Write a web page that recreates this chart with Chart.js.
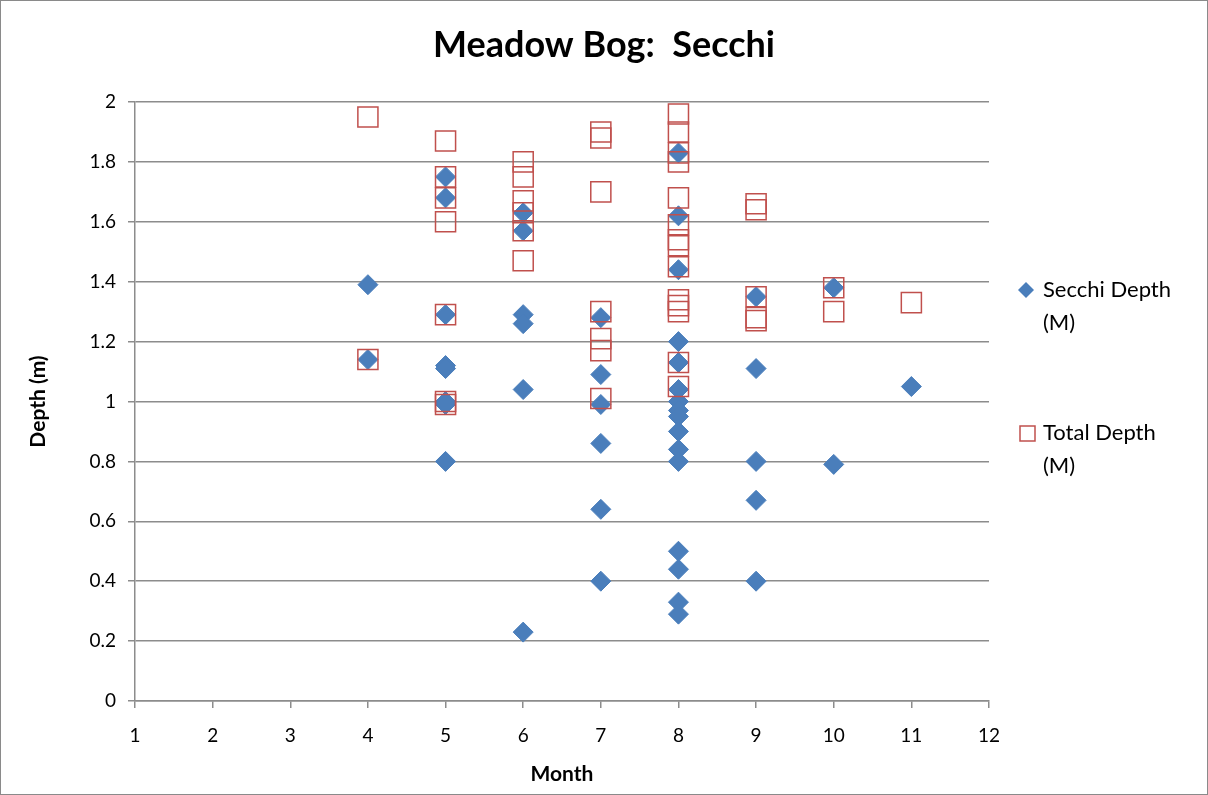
<!DOCTYPE html>
<html>
<head>
<meta charset="utf-8">
<script src="https://cdn.jsdelivr.net/npm/chart.js@4/dist/chart.umd.min.js"></script>
<style>
  html, body { margin: 0; padding: 0; background: #fff; }
  #wrap { width: 1208px; height: 795px; position: relative; }
</style>
</head>
<body>
<div id="wrap"><canvas id="secchiChart" width="1208" height="795"></canvas></div>
<script>
// Data
const chartTitle = 'Meadow Bog:  Secchi';
const xTitle = 'Month';
const yTitle = 'Depth (m)';
const seriesNames = [['Secchi Depth', '(M)'], ['Total Depth', '(M)']];

const secchiMonths = [4, 4,
    5, 5, 5, 5, 5, 5, 5, 5,
    6, 6, 6, 6, 6, 6,
    7, 7, 7, 7, 7, 7,
    8, 8, 8, 8, 8, 8, 8, 8, 8, 8, 8, 8, 8, 8, 8, 8,
    9, 9, 9, 9, 9,
    10, 10,
    11];
const secchiDepths = [1.39, 1.14,
    1.75, 1.68, 1.29, 1.12, 1.11, 1.00, 0.99, 0.80,
    1.63, 1.57, 1.29, 1.26, 1.04, 0.23,
    1.28, 1.09, 0.99, 0.86, 0.64, 0.40,
    1.83, 1.62, 1.44, 1.20, 1.13, 1.04, 1.00, 0.97, 0.95, 0.90, 0.84, 0.80, 0.50, 0.44, 0.33, 0.29,
    1.35, 1.11, 0.80, 0.67, 0.40,
    1.38, 0.79,
    1.05];

const totalMonths = [4, 4,
    5, 5, 5, 5, 5, 5, 5,
    6, 6, 6, 6, 6, 6,
    7, 7, 7, 7, 7, 7, 7,
    8, 8, 8, 8, 8, 8, 8, 8, 8, 8, 8, 8, 8, 8,
    9, 9, 9, 9, 9,
    10, 10,
    11];
const totalDepths = [1.95, 1.14,
    1.87, 1.75, 1.68, 1.60, 1.29, 1.00, 0.99,
    1.80, 1.75, 1.67, 1.63, 1.57, 1.47,
    1.90, 1.88, 1.70, 1.30, 1.21, 1.17, 1.01,
    1.96, 1.90, 1.83, 1.80, 1.68, 1.59, 1.54, 1.52, 1.45, 1.34, 1.32, 1.30, 1.13, 1.05,
    1.66, 1.64, 1.35, 1.28, 1.27,
    1.38, 1.30,
    1.33];

const FONT = 'Lato, "Open Sans", "Liberation Sans", sans-serif';
const blue = '#4a7ebb';
const red = '#c0504d';
const gridGray = '#8c8c8c';

function toPoints(xs, ys) {
    return xs.map((x, i) => ({ x: x, y: ys[i] }));
}

// Title, legend and outer frame
const extrasPlugin = {
    id: 'extras',
    afterDraw(chart) {
        const ctx = chart.ctx;
        ctx.save();
        ctx.strokeStyle = '#8a8a8a';
        ctx.lineWidth = 1;
        ctx.strokeRect(0.5, 0.5, chart.width - 1, chart.height - 1);

        ctx.fillStyle = '#000';
        ctx.font = 'bold 36px ' + FONT;
        ctx.textAlign = 'center';
        ctx.textBaseline = 'middle';
        ctx.fillText(chartTitle, 604, 45);

        // legend
        ctx.font = '22px ' + FONT;
        ctx.textAlign = 'left';
        const rows = [290, 433];
        rows.forEach((y, i) => {
            const ds = chart.data.datasets[i];
            ctx.beginPath();
            if (i === 0) {
                ctx.fillStyle = ds.backgroundColor;
                ctx.moveTo(1026, y - 8);
                ctx.lineTo(1034, y);
                ctx.lineTo(1026, y + 8);
                ctx.lineTo(1018, y);
                ctx.closePath();
                ctx.fill();
            } else {
                ctx.strokeStyle = ds.borderColor;
                ctx.lineWidth = 1.5;
                ctx.rect(1020, y - 7, 15, 15);
                ctx.stroke();
            }
            ctx.fillStyle = '#000';
            ctx.fillText(seriesNames[i][0], 1043, y);
            ctx.fillText(seriesNames[i][1], 1043, y + 33);
        });
        ctx.restore();
    }
};

const secchiChart = new Chart(document.getElementById('secchiChart'), {
    type: 'scatter',
    data: {
        datasets: [{
            label: 'Secchi Depth (M)',
            data: toPoints(secchiMonths, secchiDepths),
            pointStyle: 'rectRot',
            pointRadius: 10,
            backgroundColor: blue,
            borderColor: blue,
            borderWidth: 1,
            order: 1
        }, {
            label: 'Total Depth (M)',
            data: toPoints(totalMonths, totalDepths),
            pointStyle: 'rect',
            pointRadius: 14.2,
            backgroundColor: 'rgba(0,0,0,0)',
            borderColor: red,
            borderWidth: 1.5,
            order: 0
        }]
    },
    options: {
        responsive: false,
        animation: false,
        events: [],
        layout: { padding: { left: 0, right: 219, top: 102, bottom: 0 } },
        plugins: {
            legend: { display: false },
            title: { display: false },
            tooltip: { enabled: false }
        },
        scales: {
            x: {
                type: 'linear',
                min: 1,
                max: 12,
                ticks: { stepSize: 1, color: '#000', font: { family: FONT, size: 19 }, padding: 16 },
                grid: { drawOnChartArea: false, drawTicks: true, tickLength: 7, color: gridGray, lineWidth: 1.5 },
                border: { color: gridGray, width: 1.5 },
                title: { display: true, text: xTitle, color: '#000', font: { family: FONT, size: 21, weight: 'bold' }, padding: { top: 0, bottom: 8 } },
                afterFit(scale) { scale.height = 94; }
            },
            y: {
                min: 0,
                max: 2,
                ticks: {
                    stepSize: 0.2,
                    color: '#000',
                    font: { family: FONT, size: 19 },
                    padding: 12,
                    callback: v => String(+v.toFixed(1))
                },
                grid: { color: gridGray, lineWidth: 1.5, tickLength: 7 },
                border: { color: gridGray, width: 1.5 },
                title: { display: true, text: yTitle, color: '#000', font: { family: FONT, size: 21, weight: 'bold' }, padding: { top: 26, bottom: 0 } },
                afterFit(scale) { scale.width = 135; }
            }
        }
    },
    plugins: [extrasPlugin]
});
</script>
</body>
</html>
